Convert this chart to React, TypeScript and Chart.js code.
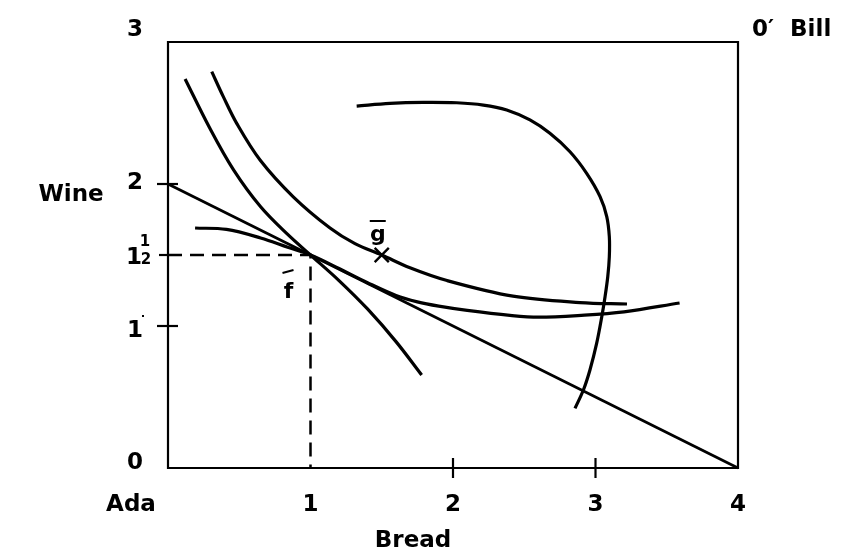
import React, { useEffect, useRef } from "react";
import { Chart, registerables } from "chart.js";

Chart.register(...registerables);

// ---- data (Bread on x, Wine on y) ----
const budgetX = [0, 4];
const budgetY = [2, 0];

// Ada's lower indifference curve (through f)
const adaLowX = [0.12, 0.29, 0.46, 0.65, 0.84, 1.0, 1.2, 1.4, 1.6, 1.78];
const adaLowY = [2.74, 2.40, 2.10, 1.84, 1.645, 1.5, 1.32, 1.12, 0.89, 0.655];

// Ada's higher indifference curve (through g)
const adaHighX = [0.307, 0.388, 0.482, 0.646, 0.879, 1.137, 1.312, 1.5, 1.698, 1.958, 2.421, 2.891, 3.221];
const adaHighY = [2.791, 2.615, 2.427, 2.169, 1.91, 1.69, 1.58, 1.5, 1.41, 1.32, 1.21, 1.165, 1.155];

// Bill's curve tangent at f
const billFX = [0.19, 0.41, 0.65, 0.84, 1.0, 1.2, 1.4, 1.6, 1.75, 1.9, 2.1, 2.4, 2.6, 2.9, 3.2, 3.59];
const billFY = [1.69, 1.68, 1.62, 1.555, 1.5, 1.405, 1.305, 1.215, 1.17, 1.14, 1.11, 1.075, 1.062, 1.075, 1.1, 1.162];

// Bill's far curve
const billFarX = [1.324, 1.558, 1.792, 2.026, 2.213, 2.377, 2.54, 2.68, 2.821, 2.938, 3.032, 3.079, 3.097, 3.097, 3.086, 3.067, 3.044, 3.008, 2.961, 2.915, 2.856];
const billFarY = [2.549, 2.568, 2.575, 2.572, 2.556, 2.521, 2.451, 2.357, 2.227, 2.075, 1.911, 1.77, 1.629, 1.488, 1.347, 1.206, 1.065, 0.877, 0.69, 0.549, 0.42];

// dashed guide to f
const guideX = [0, 1, 1];
const guideY = [1.5, 1.5, 0];

// point g
const gX = [1.5];
const gY = [1.5];

// tick labels
const xTickVals = [1, 2, 3, 4];
const xTickText = ["1", "2", "3", "4"];
const yTickVals = [0, 1, 2, 3];
const yTickText = ["0", "1", "2", "3"];
const xTickMarks = [2, 3];
const yTickMarks = [1, 2];

const pts = (xs: number[], ys: number[]) => xs.map((x, i) => ({ x, y: ys[i] }));

const FONT = 'bold 23px "DejaVu Sans"';

const decor = {
  id: "decor",
  afterDraw(chart: any) {
    const { ctx, chartArea, scales } = chart;
    const { left, right, top, bottom } = chartArea;
    const xs = scales.x;
    const ys = scales.y;
    ctx.save();
    ctx.strokeStyle = "#000";
    ctx.fillStyle = "#000";
    ctx.lineWidth = 2.2;
    ctx.lineCap = "butt";
    // box
    ctx.beginPath();
    ctx.moveTo(left, top);
    ctx.lineTo(right, top);
    ctx.lineTo(right, bottom);
    ctx.lineTo(left, bottom);
    ctx.closePath();
    ctx.stroke();
    // x tick marks
    xTickMarks.forEach((v) => {
      const px = xs.getPixelForValue(v);
      ctx.beginPath();
      ctx.moveTo(px, bottom - 10);
      ctx.lineTo(px, bottom + 10);
      ctx.stroke();
    });
    // y tick marks
    yTickMarks.forEach((v) => {
      const py = ys.getPixelForValue(v);
      ctx.beginPath();
      ctx.moveTo(left - 11, py);
      ctx.lineTo(left + 10, py);
      ctx.stroke();
    });
    // 1.5 tick (outside only)
    const p15 = ys.getPixelForValue(1.5);
    ctx.beginPath();
    ctx.moveTo(left - 9, p15);
    ctx.lineTo(left, p15);
    ctx.stroke();

    ctx.font = FONT;
    ctx.textAlign = "center";
    ctx.textBaseline = "middle";
    // x labels
    xTickVals.forEach((v, i) => {
      ctx.fillText(xTickText[i], xs.getPixelForValue(v), bottom + 37);
    });
    ctx.fillText("Ada", left - 37, bottom + 37);
    ctx.fillText("Bread", (left + right) / 2 - 40, bottom + 73);
    // y labels
    const yOff = [-5, 5, -1, -12];
    yTickVals.forEach((v, i) => {
      ctx.fillText(yTickText[i], left - 33, ys.getPixelForValue(v) + yOff[i]);
    });
    // 1 1/2
    ctx.fillText("1", left - 34, p15 + 3);
    ctx.font = 'bold 15px "DejaVu Sans"';
    ctx.fillText("1", left - 23, p15 - 13);
    ctx.fillText("2", left - 22, p15 + 5);
    // small dot after 1
    ctx.fillRect(left - 26, ys.getPixelForValue(1) - 11, 2, 2);

    ctx.font = FONT;
    ctx.fillText("Wine", 71, ys.getPixelForValue(2) + 11);
    ctx.textAlign = "left";
    ctx.fillText("0\u2032  Bill", right + 14, top - 12);

    // f-bar label
    const fx = xs.getPixelForValue(1);
    const fy = ys.getPixelForValue(1.5);
    ctx.textAlign = "center";
    ctx.textBaseline = "alphabetic";
    ctx.font = 'bold 22px "DejaVu Sans"';
    ctx.fillText("f", fx - 22, fy + 43);
    ctx.lineWidth = 2;
    ctx.beginPath();
    ctx.moveTo(fx - 28, fy + 18);
    ctx.lineTo(fx - 17, fy + 15);
    ctx.stroke();
    // g-bar label
    const gx = xs.getPixelForValue(1.5);
    const gy = ys.getPixelForValue(1.5);
    ctx.fillText("g", gx - 4, gy - 14);
    ctx.beginPath();
    ctx.moveTo(gx - 12, gy - 34);
    ctx.lineTo(gx + 4, gy - 34);
    ctx.stroke();
    ctx.restore();
  },
};

export default function App() {
  const ref = useRef<HTMLCanvasElement | null>(null);
  useEffect(() => {
    if (!ref.current) return;
    const line = (data: any, extra: any = {}) => ({
      data,
      showLine: true,
      borderColor: "#000",
      borderWidth: 3.2,
      pointRadius: 0,
      tension: 0.35,
      fill: false,
      clip: false,
      ...extra,
    });
    const chart = new Chart(ref.current, {
      type: "scatter",
      data: {
        datasets: [
          line(pts(budgetX, budgetY), { tension: 0, borderWidth: 2.8 }),
          line(pts(adaLowX, adaLowY)),
          line(pts(adaHighX, adaHighY)),
          line(pts(billFX, billFY)),
          line(pts(billFarX, billFarY)),
          line(pts(guideX, guideY), { tension: 0, borderWidth: 2.5, borderDash: [14, 8] }),
          {
            data: pts(gX, gY),
            showLine: false,
            pointStyle: "crossRot",
            pointRadius: 10,
            borderColor: "#000",
            borderWidth: 2.4,
            backgroundColor: "#000",
          } as any,
        ],
      },
      options: {
        animation: false,
        responsive: false,
        layout: { padding: { left: 168, right: 103, top: 42, bottom: 86 } },
        scales: {
          x: { type: "linear", min: 0, max: 4, display: false },
          y: { type: "linear", min: 0, max: 3, display: false },
        },
        plugins: { legend: { display: false }, tooltip: { enabled: false } },
        events: [],
      },
      plugins: [decor],
    });
    return () => chart.destroy();
  }, []);
  return (
    <div style={{ position: "absolute", left: 0, top: 0, width: 841, height: 554, background: "#fff" }}>
      <canvas ref={ref} width={841} height={554} />
    </div>
  );
}
